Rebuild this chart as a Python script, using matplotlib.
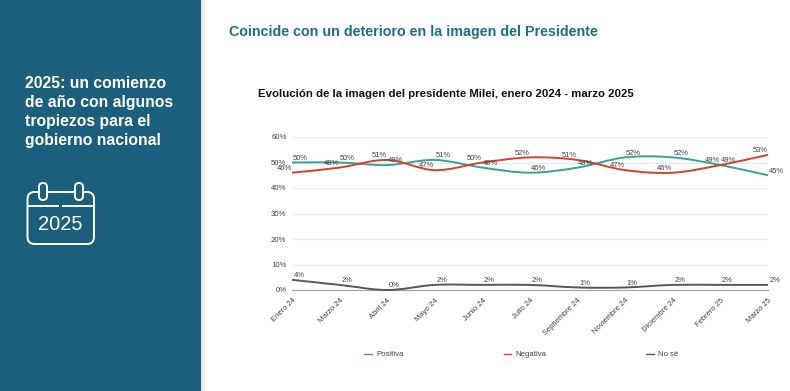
import matplotlib
matplotlib.use("Agg")
import matplotlib.pyplot as plt
import numpy as np
from matplotlib.patches import FancyBboxPatch, PathPatch, Rectangle
from matplotlib.path import Path

plt.rcParams["font.family"] = ["Liberation Sans", "DejaVu Sans"]

months = ["Enero 24", "Marzo 24", "Abril 24", "Mayo 24", "Junio 24", "Julio 24",
          "Septiembre 24", "Noviembre 24", "Diciembre 24", "Febrero 25", "Marzo 25"]
positiva = [50, 50, 49, 51, 48, 46, 48, 52, 52, 49, 45]
negativa = [46, 48, 51, 47, 50, 52, 51, 47, 46, 49, 53]
no_se = [4, 2, 0, 2, 2, 2, 1, 1, 2, 2, 2]
y_ticks = [0, 10, 20, 30, 40, 50, 60]

W, H = 790, 391
BLUE = "#1b5f7c"
TEAL = "#2fa59b"
RED = "#d8402c"
DARK = "#555759"
TEXT = "#3f3f3f"


def smooth_path(xs, ys):
    # cubic segments through every point, tangents from the neighbours
    ys = np.array(ys, dtype=float)
    m = np.gradient(ys)
    verts = [(xs[0], ys[0])]
    codes = [Path.MOVETO]
    for i in range(len(xs) - 1):
        verts.append((xs[i] + 1 / 3, ys[i] + m[i] / 3))
        verts.append((xs[i + 1] - 1 / 3, ys[i + 1] - m[i + 1] / 3))
        verts.append((xs[i + 1], ys[i + 1]))
        codes += [Path.CURVE4] * 3
    return Path(verts, codes)


fig = plt.figure(figsize=(W / 100, H / 100), dpi=100, facecolor="white")

# page layer in pixel coordinates
bg = fig.add_axes([0, 0, 1, 1])
bg.set_xlim(0, W)
bg.set_ylim(H, 0)
bg.axis("off")

# shadow right of the panel
for i in range(6):
    bg.add_patch(Rectangle((201 + i, 0), 1, H, fc="black", alpha=0.12 * (1 - i / 6), lw=0))
bg.add_patch(Rectangle((0, 0), 201, H, fc=BLUE, lw=0))

panel_lines = ["2025: un comienzo", "de año con algunos", "tropiezos para el", "gobierno nacional"]
for i, line in enumerate(panel_lines):
    bg.text(25, 83 + i * 19.2, line, color="white", fontsize=11.3, fontweight="bold", va="center")

# calendar icon
bg.add_patch(FancyBboxPatch((27.5, 192), 66.5, 52, boxstyle="round,pad=0,rounding_size=7",
                            fc="none", ec="white", lw=1.4))
bg.plot([28, 58], [206, 206], color="white", lw=1.4)
bg.plot([63, 94], [206, 206], color="white", lw=1.4)
for cx in (43, 79):
    bg.add_patch(FancyBboxPatch((cx - 4, 183), 8, 17, boxstyle="round,pad=0,rounding_size=4",
                                fc=BLUE, ec="white", lw=1.4, zorder=3))
bg.text(60.5, 225, "2025", color="white", fontsize=14.5, ha="center", va="center")

bg.text(229, 32, "Coincide con un deterioro en la imagen del Presidente", color="#1f6f84",
        fontsize=10.25, fontweight="bold", va="center")
bg.text(258, 94, "Evolución de la imagen del presidente Milei, enero 2024 - marzo 2025",
        color="#111111", fontsize=8.17, fontweight="bold", va="center")

# chart
left, right, top, bottom = 292, 768, 137, 290
ax = fig.add_axes([left / W, 1 - bottom / H, (right - left) / W, (bottom - top) / H])
ax.patch.set_alpha(0)
x = np.arange(len(months))
ax.set_xlim(0, len(months) - 1)
ax.set_ylim(0, 60)
for s in ax.spines.values():
    s.set_visible(False)
ax.spines["bottom"].set_visible(True)
ax.spines["bottom"].set_color("#a8a8a8")
ax.spines["bottom"].set_linewidth(0.9)
ax.grid(axis="y", color="#ececec", lw=0.9)
ax.set_axisbelow(True)
ax.set_yticks(y_ticks)
ax.set_yticklabels([f"{v}%" for v in y_ticks], fontsize=5.6, color=TEXT)
ax.set_xticks(x)
ax.set_xticklabels(months, fontsize=5.5, color=TEXT, rotation=45, ha="right", rotation_mode="anchor")
ax.tick_params(length=0)
ax.tick_params(axis="y", pad=4)
ax.tick_params(axis="x", pad=5)

for values, color, dx in [(positiva, TEAL, 8), (negativa, RED, -8), (no_se, DARK, 7)]:
    ax.add_patch(PathPatch(smooth_path(x, values), fc="none", ec=color, lw=1.4, clip_on=False, zorder=3))
    for xi, v in zip(x, values):
        ax.annotate(f"{v}%", (xi, v), xytext=(dx * 0.72, 3), textcoords="offset points", ha="center",
                    va="center", fontsize=5.4, color=TEXT, annotation_clip=False, zorder=4)

# legend
for x0, x1, color, label in [(364, 372, TEAL, "Positiva"), (504, 511, RED, "Negativa"), (646, 654, DARK, "No sé")]:
    bg.plot([x0, x1], [354, 354], color=color, lw=1)
    bg.text(x1 + 4, 354, label, color=TEXT, fontsize=5.6, va="center")

fig.savefig("out.png", dpi=100)
